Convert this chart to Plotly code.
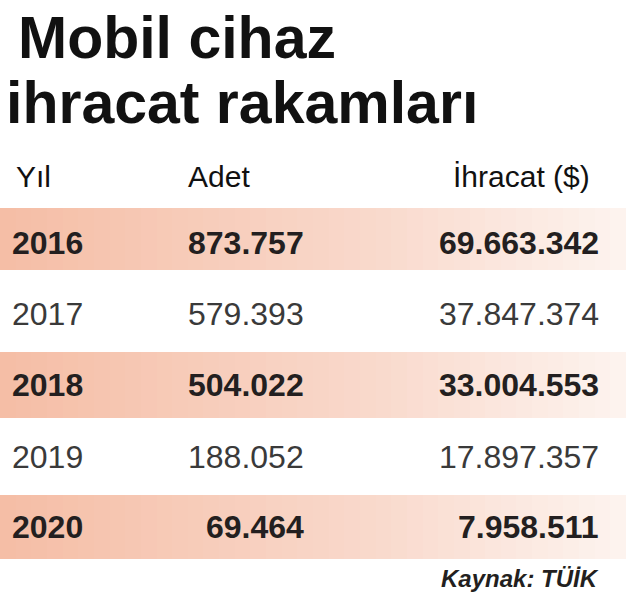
import plotly.graph_objects as go
import numpy as np

title_lines = ["Mobil cihaz", "ihracat rakamları"]
headers = ["Yıl", "Adet", "İhracat ($)"]
years = ["2016", "2017", "2018", "2019", "2020"]
adet = ["873.757", "579.393", "504.022", "188.052", "69.464"]
ihracat = ["69.663.342", "37.847.374", "33.004.553", "17.897.357", "7.958.511"]
source = "Kaynak: TÜİK"

W, H = 626, 596
row_y = [243, 314, 385, 457, 527]
band_edges = [208, 270, 352, 418, 495, 559]

fig = go.Figure()
xs = np.linspace(0, W, 41)
grad = np.linspace(0, 1, 40)
z = [grad if i % 2 == 0 else [None] * 40 for i in range(5)]
fig.add_trace(go.Heatmap(x=xs, y=band_edges, z=z, showscale=False, hoverinfo="skip",
                         colorscale=[[0, "#f5bea6"], [0.6, "#f9d9cc"], [1, "#fdf3ee"]],
                         zmin=0, zmax=1))

F = "Liberation Sans, Arial, sans-serif"
def ann(x, y, t, anchor="left", size=32, color="#231f20", bold=False):
    if bold:
        t = "<b>" + t + "</b>"
    fig.add_annotation(x=x, y=y, text=t, showarrow=False, xanchor=anchor, yanchor="middle",
                       font=dict(family=F, size=size, color=color))

ann(16, 38, title_lines[0], size=59, color="#111", bold=True)
ann(4, 103, title_lines[1], size=59, color="#111", bold=True)
ann(14, 176, headers[0], size=30, bold=False, color="#111")
ann(186, 176, headers[1], size=30, bold=False, color="#111")
ann(592, 176, headers[2], anchor="right", size=30, bold=False, color="#111")
for i in range(5):
    b = i % 2 == 0
    c = "#231f20" if b else "#3a3a3a"
    ann(10, row_y[i], years[i], bold=b, color=c)
    ann(306, row_y[i], adet[i], anchor="right", bold=b, color=c)
    ann(601, row_y[i], ihracat[i], anchor="right", bold=b, color=c)
ann(601, 578, "<b><i>" + source + "</i></b>", anchor="right", size=24)

fig.update_xaxes(range=[0, W], visible=False, fixedrange=True)
fig.update_yaxes(range=[H, 0], visible=False, fixedrange=True)
fig.update_layout(width=W, height=H, margin=dict(l=0, r=0, t=0, b=0),
                  plot_bgcolor="white", paper_bgcolor="white", showlegend=False)
fig.write_html("out.html", config={"displayModeBar": False},
               post_script="document.body.style.margin='0';document.body.style.overflow='hidden';")
